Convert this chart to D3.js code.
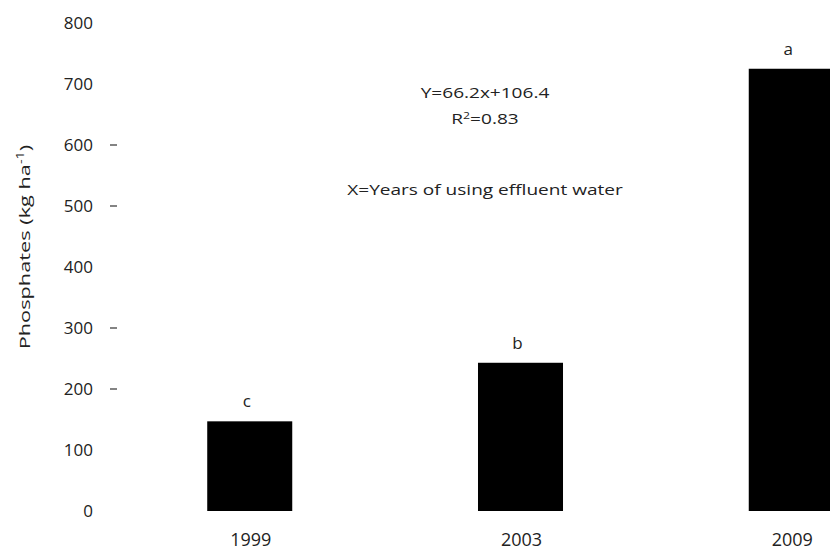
<!DOCTYPE html>
<html>
<head>
<meta charset="utf-8">
<script src="https://cdn.jsdelivr.net/npm/d3@7"></script>
<style>
  body { margin: 0; background: #fff; }
  text { font-family: "Open Sans", "Noto Sans", sans-serif; fill: #222; }
</style>
</head>
<body>
<div id="chart"></div>
<script>
var years = ["1999", "2003", "2009"];
var phosphates = [147, 243, 725];
var letters = ["c", "b", "a"];
var yTicks = [0, 100, 200, 300, 400, 500, 600, 700, 800];
var dashTicks = [200, 300, 500, 600];

var width = 830;
var height = 547;

var svg = d3.select("#chart")
  .append("svg")
  .attr("width", width)
  .attr("height", height);

var y = d3.scaleLinear()
  .domain([0, 800])
  .range([511, 23]);

var x = d3.scaleBand()
  .domain(years)
  .range([126, 915])
  .paddingInner(0.686)
  .paddingOuter(0.3);

// y tick labels, no axis line
svg.append("g")
  .selectAll("text")
  .data(yTicks)
  .enter().append("text")
  .attr("x", 93)
  .attr("y", function(d) { return y(d); })
  .attr("dy", "0.36em")
  .attr("text-anchor", "end")
  .style("font-size", "17px")
  .text(function(d) { return d; });

// the few stray tick dashes
svg.append("g")
  .selectAll("line")
  .data(dashTicks)
  .enter().append("line")
  .attr("x1", 110)
  .attr("x2", 117)
  .attr("y1", function(d) { return y(d); })
  .attr("y2", function(d) { return y(d); })
  .attr("stroke", "#333")
  .attr("stroke-width", 1.2);

// bars
svg.append("g")
  .selectAll("rect")
  .data(phosphates)
  .enter().append("rect")
  .attr("x", function(d, i) { return x(years[i]); })
  .attr("y", function(d) { return y(d); })
  .attr("width", x.bandwidth())
  .attr("height", function(d) { return y(0) - y(d); })
  .attr("fill", "#000");

// significance letters
svg.append("g")
  .selectAll("text")
  .data(phosphates)
  .enter().append("text")
  .attr("x", function(d, i) { return x(years[i]) + x.bandwidth() / 2 - 3; })
  .attr("y", function(d) { return y(d) - 14; })
  .attr("text-anchor", "middle")
  .style("font-size", "17px")
  .text(function(d, i) { return letters[i]; });

// category labels (cut by the bottom edge, as in the original)
svg.append("g")
  .selectAll("text")
  .data(years)
  .enter().append("text")
  .attr("x", function(d) { return x(d) + x.bandwidth() / 2 + 1; })
  .attr("y", 546)
  .attr("text-anchor", "middle")
  .style("font-size", "18px")
  .text(function(d) { return d; });

// y axis title, stretched along its length
var title = svg.append("text")
  .attr("transform", "translate(30,247) rotate(-90) scale(1.45,1)")
  .attr("text-anchor", "middle")
  .style("font-size", "15px");
title.append("tspan").text("Phosphates (kg ha");
title.append("tspan").attr("dy", -6).style("font-size", "10px").text("-1");
title.append("tspan").attr("dy", 6).text(")");

// regression annotation
var note = svg.append("g").attr("transform", "translate(485,0) scale(1.36,1)");
note.append("text")
  .attr("y", 98)
  .attr("text-anchor", "middle")
  .style("font-size", "14px")
  .text("Y=66.2x+106.4");
var r2 = note.append("text")
  .attr("y", 124)
  .attr("text-anchor", "middle")
  .style("font-size", "14px");
r2.append("tspan").text("R");
r2.append("tspan").attr("dy", -5).style("font-size", "9px").text("2");
r2.append("tspan").attr("dy", 5).text("=0.83");
note.append("text")
  .attr("y", 195)
  .attr("text-anchor", "middle")
  .style("font-size", "14px")
  .text("X=Years of using effluent water");
</script>
</body>
</html>
